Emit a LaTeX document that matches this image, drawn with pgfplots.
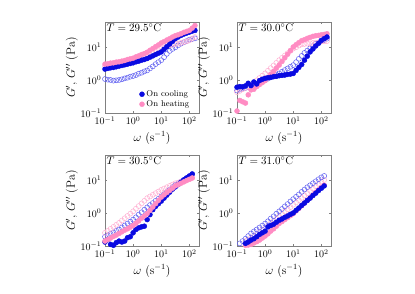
\documentclass[border=0pt]{standalone}
\usepackage{pgfplots}
\usepackage{pgfplotstable}
\pgfplotsset{compat=1.18}
\definecolor{cblue}{RGB}{10,10,225}
\definecolor{cblueo}{RGB}{95,95,240}
\definecolor{cpink}{RGB}{255,140,195}
\definecolor{cpinko}{RGB}{255,175,210}

\pgfplotstableread{
w a b c d
0.1 2.14 1.07 3.02 2.63
0.126 2.24 1.02 3.09 2.75
0.158 2.34 1.00 3.24 2.82
0.2 2.40 0.955 3.31 2.95
0.251 2.51 0.977 3.47 3.02
0.316 2.63 1.00 3.55 3.16
0.398 2.75 1.05 3.72 3.31
0.501 2.88 1.12 3.89 3.39
0.631 3.02 1.17 4.17 3.55
0.794 3.16 1.26 4.37 3.63
1 3.31 1.32 4.57 3.80
1.26 3.55 1.41 5.01 4.07
1.58 3.72 1.55 5.37 4.37
2 3.98 1.66 5.89 4.57
2.51 4.17 1.82 6.31 4.90
3.16 4.47 1.95 6.92 5.25
3.98 4.90 2.24 7.94 5.89
5.01 5.37 2.57 8.91 6.46
6.31 5.89 3.02 10.2 7.24
7.94 6.46 3.47 11.5 7.94
10 7.08 3.98 13.2 8.91
12.6 8.51 4.90 14.5 9.55
15.8 10.2 6.17 16.2 10.5
20 12.3 7.59 17.8 11.2
25.1 14.8 8.71 20.0 11.7
31.6 17.8 9.77 21.9 12.3
39.8 20.0 11.2 23.4 12.6
50.1 22.4 12.6 25.1 13.2
63.1 24.5 13.8 27.5 14.1
79.4 26.3 15.1 29.5 14.8
100 28.2 16.6 31.6 15.8
126 30.2 17.4 37.2 17.8
158 31.6 18.2 44.7 20.0
}\TLtab

\pgfplotstableread{
w a b c d
0.1 0.603 0.479 0.115 0.427
0.126 0.631 0.513 0.240 0.468
0.158 0.617 0.550 0.219 0.525
0.2 0.661 0.575 0.200 0.575
0.251 0.794 0.617 0.355 0.646
0.316 0.676 0.661 0.501 0.708
0.398 0.871 0.724 0.525 0.832
0.501 0.759 0.776 0.631 0.977
0.631 0.955 0.851 0.724 1.15
0.794 1.05 0.912 0.832 1.35
1 1.12 1.00 0.955 1.58
1.26 1.17 1.10 1.17 1.91
1.58 1.20 1.20 1.48 2.29
2 1.26 1.32 1.82 2.75
2.51 1.29 1.45 2.29 3.31
3.16 1.35 1.58 2.82 3.98
3.98 1.38 1.78 3.63 4.68
5.01 1.41 2.00 4.68 5.50
6.31 1.48 2.24 6.03 6.46
7.94 1.51 2.51 7.76 7.59
10 1.58 2.82 10.0 8.91
12.6 1.95 3.47 11.7 9.77
15.8 2.40 4.37 13.5 11.0
20 2.95 5.37 15.5 12.0
25.1 3.98 6.61 16.6 12.3
31.6 5.25 7.76 18.2 12.6
39.8 7.08 9.12 19.5 12.9
50.1 8.71 10.7 20.9 13.2
63.1 10.7 12.6 21.9 13.5
79.4 12.9 13.8 22.4 13.8
100 15.8 15.1 23.4 14.5
126 17.8 16.2 24.0 14.8
158 20.0 17.8 25.1 15.1
}\TRtab

\pgfplotstableread{
w a b c d
0.1 0.132 0.191 0.141 0.251
0.126 0.158 0.209 0.158 0.288
0.158 0.112 0.234 0.174 0.331
0.2 0.105 0.257 0.195 0.380
0.251 0.126 0.288 0.214 0.437
0.316 0.141 0.316 0.240 0.501
0.398 0.132 0.363 0.269 0.589
0.501 0.141 0.417 0.302 0.692
0.631 0.178 0.479 0.331 0.813
0.794 0.191 0.550 0.372 0.955
1 0.251 0.631 0.417 1.12
1.26 0.316 0.741 0.490 1.35
1.58 0.355 0.891 0.575 1.62
2 0.380 1.05 0.692 1.95
2.51 0.398 1.26 0.813 2.34
3.16 0.631 1.48 0.955 2.82
3.98 0.891 1.74 1.20 3.16
5.01 1.26 2.00 1.51 3.55
6.31 1.58 2.34 1.91 3.98
7.94 1.91 2.69 2.40 4.47
10 2.29 3.16 3.02 5.01
12.6 2.82 3.72 3.55 5.50
15.8 3.47 4.37 4.17 6.03
20 4.27 5.13 4.79 6.61
25.1 5.25 6.03 5.62 7.24
31.6 6.17 7.08 6.61 7.94
39.8 7.24 7.94 7.24 8.32
50.1 8.51 8.91 7.94 8.91
63.1 10.0 10.0 8.71 9.33
79.4 11.5 11.2 9.55 10.0
100 13.2 12.6 10.5 10.5
126 15.1 15.1 11.5 11.5
}\BLtab

\pgfplotstableread{
w a b c d
0.1 nan nan nan nan
0.126 nan 0.120 nan nan
0.158 nan 0.141 nan nan
0.2 0.120 0.166 0.105 0.141
0.251 0.132 0.200 0.107 0.158
0.316 0.151 0.240 0.112 0.178
0.398 0.166 0.275 0.123 0.204
0.501 0.191 0.316 0.135 0.234
0.631 0.224 0.363 0.151 0.269
0.794 0.251 0.417 0.174 0.309
1 0.282 0.479 0.200 0.355
1.26 0.380 0.562 0.234 0.417
1.58 0.417 0.676 0.282 0.490
2 0.457 0.794 0.331 0.575
2.51 0.525 0.955 0.398 0.676
3.16 0.603 1.12 0.479 0.794
3.98 0.661 1.32 0.550 0.933
5.01 0.741 1.58 0.631 1.10
6.31 0.813 1.86 0.724 1.29
7.94 0.912 2.24 0.832 1.51
10 1.00 2.63 0.955 1.78
12.6 1.20 3.09 1.15 2.09
15.8 1.41 3.63 1.38 2.45
20 1.70 4.37 1.66 2.88
25.1 2.00 5.13 2.00 3.39
31.6 2.40 6.03 2.40 3.98
39.8 2.82 6.92 2.88 4.68
50.1 3.39 7.94 3.47 5.50
63.1 3.98 9.12 4.17 6.46
79.4 4.79 10.5 5.01 7.59
100 5.62 12.0 6.03 8.91
126 6.61 13.2 6.92 10.0
}\BRtab

\tikzset{
  sGp/.style={only marks, mark=*, mark size=2.5pt, mark options={draw=cblue, fill=cblue}},
  sGpp/.style={only marks, mark=o, mark size=2.5pt, mark options={draw=cblueo, line width=0.5pt}},
  sHp/.style={only marks, mark=*, mark size=2.5pt, mark options={draw=cpink, fill=cpink}},
  sHpp/.style={only marks, mark=o, mark size=2.5pt, mark options={draw=cpinko, line width=0.5pt}},
}

\begin{document}
\begin{tikzpicture}
\path[use as bounding box] (0pt,0pt) rectangle (415pt,-294pt);

% Top-left
\begin{axis}[scale only axis, width=94pt, height=91pt,
    xmode=log, ymode=log,
    xmin=0.1, xmax=220, ymin=0.1, ymax=57,
    xtick={0.1,1,10,100}, ytick={0.1,1,10},
    xminorticks=false, yminorticks=false,
    tick align=inside, major tick length=2.5pt,
    tick style={black!50, line width=0.4pt},
    axis line style={black!50, line width=0.5pt},
    tick label style={font=\fontsize{10}{11}\selectfont},
    label style={font=\fontsize{12}{13}\selectfont},
    xlabel={$\omega$ (s$^{-1}$)},
    ylabel={$G'$, $G''$ (Pa)},
    ylabel style={yshift=-4pt},
    unbounded coords=discard,
  at={(105pt,-22pt)}, anchor=north west,
  legend style={at={(0.93,0.02)}, anchor=south east, draw=none, fill=none,
    font=\fontsize{8.5}{9.5}\selectfont, row sep=-1.5pt, inner sep=1pt},
  legend cell align=left]
\addlegendimage{sGp}
\addlegendentry{On cooling}
\addlegendimage{sHp}
\addlegendentry{On heating}
\addplot[sGpp, forget plot] table[x=w, y=b] {\TLtab};
\addplot[sHpp, forget plot] table[x=w, y=d] {\TLtab};
\addplot[sGp, forget plot] table[x=w, y=a] {\TLtab};
\addplot[sHp, forget plot] table[x=w, y=c] {\TLtab};
\node[anchor=north west, inner sep=1.5pt, font=\fontsize{11}{12}\selectfont] at (rel axis cs:0,1) {$T = 29.5^{\circ}$C};
\end{axis}

% Top-right
\begin{axis}[scale only axis, width=94pt, height=91pt,
    xmode=log, ymode=log,
    xmin=0.1, xmax=220, ymin=0.1, ymax=57,
    xtick={0.1,1,10,100}, ytick={0.1,1,10},
    xminorticks=false, yminorticks=false,
    tick align=inside, major tick length=2.5pt,
    tick style={black!50, line width=0.4pt},
    axis line style={black!50, line width=0.5pt},
    tick label style={font=\fontsize{10}{11}\selectfont},
    label style={font=\fontsize{12}{13}\selectfont},
    xlabel={$\omega$ (s$^{-1}$)},
    ylabel={$G'$, $G''$ (Pa)},
    ylabel style={yshift=-4pt},
    unbounded coords=discard,
    at={(237pt,-22pt)}, anchor=north west]
\addplot[sGpp] table[x=w, y=b] {\TRtab};
\addplot[sHpp] table[x=w, y=d] {\TRtab};
\addplot[sHp] table[x=w, y=c] {\TRtab};
\addplot[sGp] table[x=w, y=a] {\TRtab};
\node[anchor=north west, inner sep=1.5pt, font=\fontsize{11}{12}\selectfont] at (rel axis cs:0,1) {$T = 30.0^{\circ}$C};
\end{axis}

% Bottom-left
\begin{axis}[scale only axis, width=94pt, height=91pt,
    xmode=log, ymode=log,
    xmin=0.1, xmax=220, ymin=0.1, ymax=57,
    xtick={0.1,1,10,100}, ytick={0.1,1,10},
    xminorticks=false, yminorticks=false,
    tick align=inside, major tick length=2.5pt,
    tick style={black!50, line width=0.4pt},
    axis line style={black!50, line width=0.5pt},
    tick label style={font=\fontsize{10}{11}\selectfont},
    label style={font=\fontsize{12}{13}\selectfont},
    xlabel={$\omega$ (s$^{-1}$)},
    ylabel={$G'$, $G''$ (Pa)},
    ylabel style={yshift=-4pt},
    unbounded coords=discard,
    at={(105pt,-155pt)}, anchor=north west]
\addplot[sGpp] table[x=w, y=b] {\BLtab};
\addplot[sHpp] table[x=w, y=d] {\BLtab};
\addplot[sGp] table[x=w, y=a] {\BLtab};
\addplot[sHp] table[x=w, y=c] {\BLtab};
\node[anchor=north west, inner sep=1.5pt, font=\fontsize{11}{12}\selectfont] at (rel axis cs:0,1) {$T = 30.5^{\circ}$C};
\end{axis}

% Bottom-right
\begin{axis}[scale only axis, width=94pt, height=91pt,
    xmode=log, ymode=log,
    xmin=0.1, xmax=220, ymin=0.1, ymax=57,
    xtick={0.1,1,10,100}, ytick={0.1,1,10},
    xminorticks=false, yminorticks=false,
    tick align=inside, major tick length=2.5pt,
    tick style={black!50, line width=0.4pt},
    axis line style={black!50, line width=0.5pt},
    tick label style={font=\fontsize{10}{11}\selectfont},
    label style={font=\fontsize{12}{13}\selectfont},
    xlabel={$\omega$ (s$^{-1}$)},
    ylabel={$G'$, $G''$ (Pa)},
    ylabel style={yshift=-4pt},
    unbounded coords=discard,
    at={(237pt,-155pt)}, anchor=north west]
\addplot[sHpp] table[x=w, y=d] {\BRtab};
\addplot[sGpp] table[x=w, y=b] {\BRtab};
\addplot[sHp] table[x=w, y=c] {\BRtab};
\addplot[sGp] table[x=w, y=a] {\BRtab};
\node[anchor=north west, inner sep=1.5pt, font=\fontsize{11}{12}\selectfont] at (rel axis cs:0,1) {$T = 31.0^{\circ}$C};
\end{axis}
\end{tikzpicture}
\end{document}
